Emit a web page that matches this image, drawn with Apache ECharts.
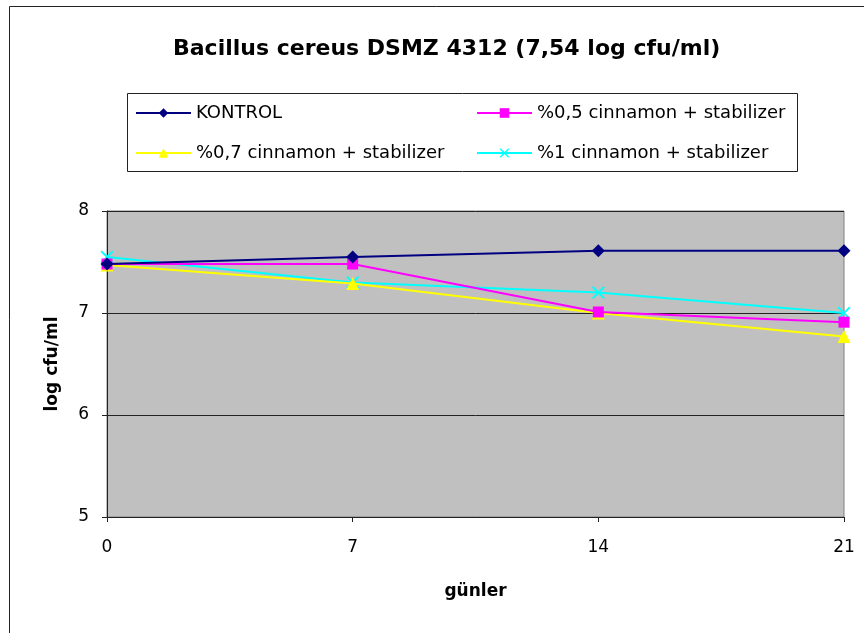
<!DOCTYPE html>
<html>
<head>
<meta charset="utf-8">
<script src="https://cdn.jsdelivr.net/npm/echarts@6/dist/echarts.min.js"></script>
<style>
  html, body { margin: 0; padding: 0; background: #fff; }
  #chart { width: 864px; height: 633px; }
</style>
</head>
<body>
<div id="chart"></div>
<script>
const days = [0, 7, 14, 21]
const kontrol = [7.48, 7.55, 7.61, 7.61]
const cin05 = [7.48, 7.48, 7.01, 6.91]
const cin07 = [7.47, 7.29, 7.0, 6.77]
const cin1 = [7.55, 7.3, 7.2, 7.0]

const names = ['KONTROL', '%0,5 cinnamon + stabilizer', '%0,7 cinnamon + stabilizer', '%1 cinnamon + stabilizer']
const colors = ['#000080', '#ff00ff', '#ffff00', '#00ffff']
const crossPath = 'path://M0,1L1,0L5,4L9,0L10,1L6,5L10,9L9,10L5,6L1,10L0,9L4,5Z'
const symbols = ['diamond', 'rect', 'triangle', crossPath]
const sizes = [13, 11, 13, 13]
const allData = [kontrol, cin05, cin07, cin1]

const chart = echarts.init(document.getElementById('chart'))

const font = 'DejaVu Sans, sans-serif'

const legendBase = {
  orient: 'vertical',
  top: 97,
  itemGap: 18,
  itemWidth: 55,
  itemHeight: 12,
  textStyle: { fontSize: 18, lineHeight: 22, color: '#000', fontFamily: font },
}

chart.setOption({
  animation: false,
  textStyle: { fontFamily: font },
  title: {
    text: 'Bacillus cereus DSMZ 4312 (7,54 log cfu/ml)',
    left: 168,
    top: 33,
    textStyle: { fontSize: 22, fontWeight: 'bold', color: '#000', fontFamily: font },
  },
  graphic: [
    { type: 'polyline', shape: { points: [[9.5, 633], [9.5, 6.5], [864, 6.5]] }, style: { fill: 'none', stroke: '#222', lineWidth: 1 }, z: -1 },
    { type: 'rect', shape: { x: 127.5, y: 93.5, width: 670, height: 78 }, style: { fill: '#fff', stroke: '#222', lineWidth: 1 }, z: -1 },
  ],
  legend: [
    Object.assign({ data: [names[0], names[2]], left: 130 }, legendBase),
    Object.assign({ data: [names[1], names[3]], left: 471 }, legendBase),
  ],
  grid: {
    left: 107,
    right: 20,
    top: 211,
    height: 306,
    show: true,
    backgroundColor: '#c0c0c0',
    borderColor: '#808080',
    borderWidth: 1,
  },
  xAxis: {
    type: 'value',
    min: 0,
    max: 21,
    interval: 7,
    name: 'günler',
    nameLocation: 'middle',
    nameGap: 66,
    nameTextStyle: { fontSize: 17, fontWeight: 'bold', color: '#000', fontFamily: font },
    axisLine: { lineStyle: { color: '#222' } },
    axisTick: { show: true, length: 5, lineStyle: { color: '#222' } },
    axisLabel: { fontSize: 17, color: '#000', margin: 22 },
    splitLine: { show: false },
  },
  yAxis: {
    type: 'value',
    min: 5,
    max: 8,
    interval: 1,
    name: 'log cfu/ml',
    nameLocation: 'middle',
    nameGap: 46,
    nameTextStyle: { fontSize: 17, fontWeight: 'bold', color: '#000', fontFamily: font },
    axisLine: { show: true, lineStyle: { color: '#222' } },
    axisTick: { show: true, length: 5, lineStyle: { color: '#222' } },
    axisLabel: { fontSize: 17, color: '#000', margin: 18 },
    splitLine: { show: true, lineStyle: { color: '#222', width: 1 } },
  },
  series: allData.map((vals, i) => ({
    name: names[i],
    type: 'line',
    data: days.map((d, j) => [d, vals[j]]),
    symbol: symbols[i],
    symbolSize: sizes[i],
    showAllSymbol: true,
    color: colors[i],
    lineStyle: { color: colors[i], width: 2 },
    itemStyle: { color: colors[i] },
    z: 10 - i,
  })),
})
</script>
</body>
</html>
